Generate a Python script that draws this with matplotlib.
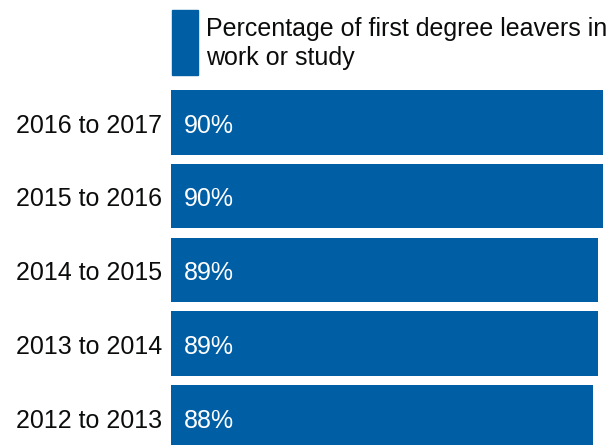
import matplotlib
matplotlib.use("Agg")
import matplotlib.pyplot as plt
from matplotlib.patches import Rectangle

years = ["2016 to 2017", "2015 to 2016", "2014 to 2015", "2013 to 2014", "2012 to 2013"]
pct = [90, 90, 89, 89, 88]
series_name = "Percentage of first degree leavers in\nwork or study"

blue = "#005ea5"
plt.rcParams["font.family"] = ["Liberation Sans", "DejaVu Sans"]

W, H = 613, 445
fig = plt.figure(figsize=(W / 100, H / 100), dpi=100)

# axes spans from the bar start to the right edge, full height
x0 = 171
ax = fig.add_axes([x0 / W, 0, 1 - x0 / W, 1])
px_per_unit = 4.8
ax.set_xlim(0, (W - x0) / px_per_unit)
pitch = 73.75
first_center = 122.35
ax.set_ylim((H - first_center) / pitch, -first_center / pitch)

pos = list(range(len(years)))
ax.barh(pos, pct, height=0.877, color=blue)
base = 10.3 / pitch  # baseline sits a little below the bar centre
for p, v, lab in zip(pos, pct, years):
  ax.text(2.7, p + base, f"{v}%", color="white", fontsize=18, va="baseline", ha="left")
  ax.text(-1.8, p + base, lab, color="#0b0c0c", fontsize=18, va="baseline", ha="right")
ax.axis("off")

# legend key
fig.patches.append(Rectangle((172 / W, 1 - 75 / H), 26 / W, 65 / H,
                             transform=fig.transFigure, color=blue))
for i, line in enumerate(series_name.split("\n")):
  fig.text(206 / W, 1 - (36 + 29 * i) / H, line, fontsize=18, color="#0b0c0c",
           va="baseline", ha="left")

fig.savefig("out.png", dpi=100)
